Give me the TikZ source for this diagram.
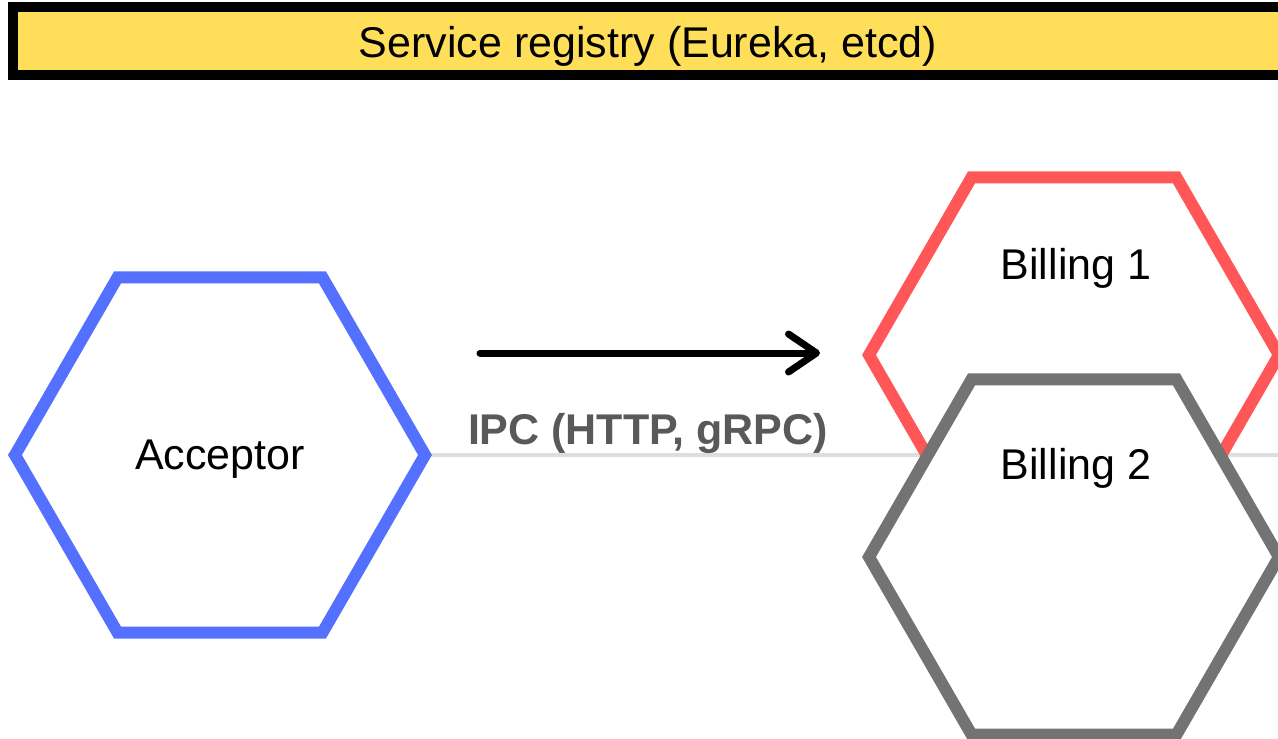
\documentclass[tikz,border=0pt]{standalone}
\usepackage{fontspec}
\setmainfont{Liberation Sans}
\usetikzlibrary{shapes.geometric,arrows.meta}

\definecolor{barfill}{RGB}{255,222,89}
\definecolor{acceptorblue}{RGB}{84,112,255}
\definecolor{billred}{RGB}{255,87,87}
\definecolor{billgray}{RGB}{115,115,115}
\definecolor{ipcgray}{RGB}{89,89,89}
\definecolor{guidegray}{RGB}{222,222,222}

\tikzset{
  bigtext/.style={font=\fontsize{43}{50}\selectfont, inner sep=0pt},
  hexnode/.style={regular polygon, regular polygon sides=6, minimum size=410pt,
    inner sep=0pt, line width=12pt, fill=white},
  guide/.style={draw=guidegray, line width=4pt},
  ipcarrow/.style={line width=7pt, line cap=round,
    -{Straight Barb[length=28pt,width=38pt,round]}},
}

\begin{document}
\begin{tikzpicture}[x=1pt, y=-1pt]
  \useasboundingbox (0,0) rectangle (1278,739);
  \clip (0,0) rectangle (1278,739);

  % registry banner running off the right edge
  \node[draw=black, line width=10pt, fill=barfill, minimum width=1300pt,
        minimum height=68pt, inner sep=0pt, anchor=north west] (registry) at (8,2) {};
  \node[bigtext] (registrytext) at (648,46) {Service registry (Eureka, etcd)};

  % faint horizontal rule behind the services
  \coordinate (ruleL) at (8,455);
  \coordinate (ruleR) at (1300,455);
  \draw[guide] (ruleL) -- (ruleR);

  % services
  \node[hexnode, draw=acceptorblue] (acceptor) at (220,455) {};
  \node[bigtext] (acceptortext) at (220,459) {Acceptor};

  \node[hexnode, draw=billred] (billing1) at (1074,355) {};
  \node[bigtext] (billing1text) at (1076,268) {Billing 1};

  \node[hexnode, draw=billgray] (billing2) at (1074,557) {};
  \node[bigtext] (billing2text) at (1076,468) {Billing 2};

  % inter-process call
  \coordinate (ipcstart) at (480,353);
  \coordinate (ipcend) at (820,353);
  \draw[ipcarrow] (ipcstart) -- (ipcend);
  \node[bigtext, font=\fontsize{43}{50}\selectfont\bfseries, text=ipcgray]
        (ipclabel) at (648,433) {IPC (HTTP, gRPC)};
\end{tikzpicture}
\end{document}
